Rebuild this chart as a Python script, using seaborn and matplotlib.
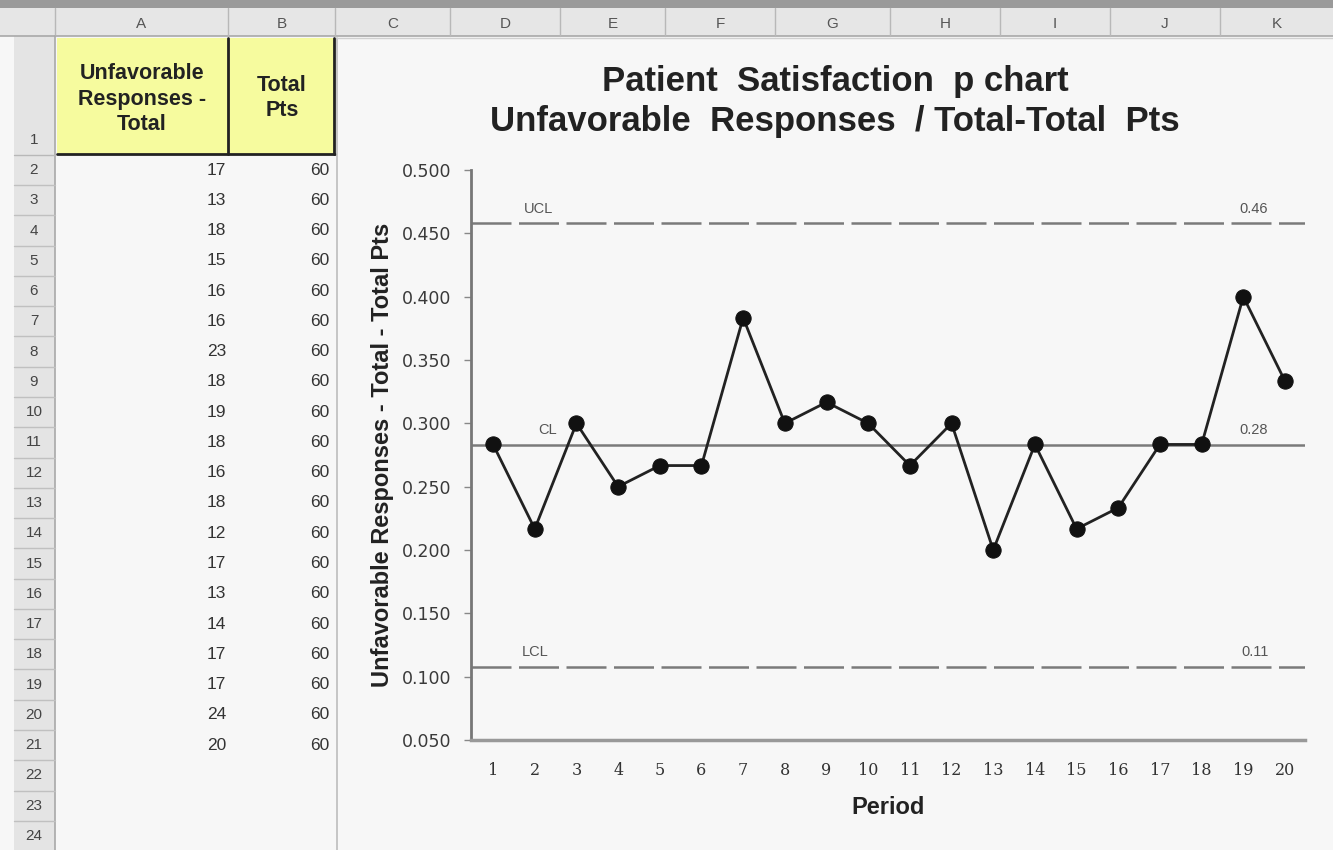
import numpy as np
import pandas as pd
import matplotlib
matplotlib.use("Agg")
import matplotlib.pyplot as plt
from matplotlib.patches import Rectangle
import seaborn as sns

# ---------------- data ----------------
periods = list(range(1, 21))
unfavorable = [17, 13, 18, 15, 16, 16, 23, 18, 19, 18, 16, 18, 12, 17, 13, 14, 17, 17, 24, 20]
total_pts = [60] * 20
p_values = [u / t for u, t in zip(unfavorable, total_pts)]

limit_names = ["UCL", "CL", "LCL"]
limit_values = [0.458, 0.283, 0.108]
limit_labels = ["0.46", "0.28", "0.11"]

y_ticks = [0.05, 0.10, 0.15, 0.20, 0.25, 0.30, 0.35, 0.40, 0.45, 0.50]
col_letters = ["A", "B", "C", "D", "E", "F", "G", "H", "I", "J", "K"]

title = "Patient  Satisfaction  p chart\nUnfavorable  Responses  / Total-Total  Pts"
y_label = "Unfavorable Responses - Total - Total Pts"
x_label = "Period"
header_a = "Unfavorable\nResponses -\nTotal"
header_b = "Total\nPts"

# ---------------- figure ----------------
sns.set_theme(style="white")
plt.rcParams["font.family"] = ["Liberation Sans", "DejaVu Sans"]

W, H = 1333, 850
fig = plt.figure(figsize=(W / 100, H / 100), dpi=100)
fig.patch.set_facecolor("#f7f7f7")

# spreadsheet backdrop (pixel coordinates)
bg = fig.add_axes([0, 0, 1, 1], zorder=0)
bg.set_xlim(0, W)
bg.set_ylim(H, 0)
bg.axis("off")
bg.set_facecolor("#f7f7f7")

col_edges = [55, 228, 335, 450, 560, 665, 775, 890, 1000, 1110, 1220, 1333]
# column header strip
bg.add_patch(Rectangle((0, 0), W, 8, color="#9a9a9a", lw=0))
bg.add_patch(Rectangle((0, 8), W, 28, color="#e6e6e6", lw=0))
bg.plot([0, W], [36, 36], color="#a8a8a8", lw=1.2)
for i, letter in enumerate(col_letters):
    x0, x1 = col_edges[i], col_edges[i + 1]
    bg.plot([x0, x0], [8, 36], color="#b8b8b8", lw=1)
    bg.text((x0 + x1) / 2, 24, letter, ha="center", va="center",
            fontsize=11, color="#555555")

# row header column
bg.add_patch(Rectangle((14, 36), 41, H - 36, color="#e4e4e4", lw=0))
bg.plot([55, 55], [36, H], color="#a8a8a8", lw=1.2)
row_h = 30.27
def row_center(k):
    return 170 + (k - 2) * row_h
bg.plot([14, 55], [155, 155], color="#b8b8b8", lw=1)
bg.text(34, 140, "1", ha="center", va="center", fontsize=11, color="#444444")
for k in range(2, 25):
    yc = row_center(k)
    bg.plot([14, 55], [yc + row_h / 2, yc + row_h / 2], color="#c0c0c0", lw=1)
    bg.text(34, yc, str(k), ha="center", va="center", fontsize=11, color="#444444")

# yellow header cells
bg.add_patch(Rectangle((57, 38), 171, 116, facecolor="#f6fb9e", edgecolor="none"))
bg.add_patch(Rectangle((228, 38), 107, 116, facecolor="#f6fb9e", edgecolor="none"))
bg.plot([57, 335], [154, 154], color="#222222", lw=2)
bg.plot([228, 228], [38, 154], color="#222222", lw=2)
bg.plot([334, 334], [38, 154], color="#222222", lw=2)
bg.text(142, 99, header_a, ha="center", va="center", fontsize=15.5,
        fontweight="bold", color="#222222", linespacing=1.3)
bg.text(282, 98, header_b, ha="center", va="center", fontsize=15.5,
        fontweight="bold", color="#222222", linespacing=1.3)

# data cells
for i, (u, t) in enumerate(zip(unfavorable, total_pts)):
    yc = row_center(i + 2)
    bg.text(226, yc, str(u), ha="right", va="center", fontsize=12.5, color="#333333")
    bg.text(329, yc, str(t), ha="right", va="center", fontsize=12.5, color="#333333")

# chart object border
bg.plot([337, 337], [38, H], color="#bdbdbd", lw=1.2)
bg.plot([337, W], [38, 38], color="#d0d0d0", lw=1)

# ---------------- the p chart ----------------
ax = fig.add_axes([471 / W, 110 / H, (1305 - 471) / W, (740 - 170) / H], zorder=2)
ax.set_facecolor("none")

df = pd.DataFrame({"Period": periods, "p": p_values})
sns.lineplot(data=df, x="Period", y="p", ax=ax, color="#222222", lw=2,
             marker="o", markersize=11, markeredgecolor="#111111",
             markerfacecolor="#111111", zorder=4)

styles = ["--", "-", "--"]
name_x = [2.1, 2.3, 2.0]
for name, val, lab, ls, nx in zip(limit_names, limit_values, limit_labels, styles, name_x):
    if ls == "--":
        ax.axhline(val, color="#7a7a7a", lw=1.8, ls="--", dashes=(16, 3), zorder=2)
    else:
        ax.axhline(val, color="#7a7a7a", lw=1.8, zorder=2)
    ax.text(nx, val + 0.006, name, ha="center", va="bottom", fontsize=10.5, color="#555555")
    ax.text(19.6, val + 0.006, lab, ha="right", va="bottom", fontsize=10.5, color="#555555")

ax.set_xlim(0.47, 20.48)
ax.set_ylim(0.05, 0.50)
ax.set_yticks(y_ticks)
ax.set_yticklabels([f"{v:.3f}" for v in y_ticks], fontsize=12.5, color="#3a3a3a",
                   family="DejaVu Sans")
ax.set_xticks(periods)
ax.set_xticklabels([str(p) for p in periods], fontsize=11.5, color="#333333",
                   family="DejaVu Serif")
ax.tick_params(axis="y", direction="out", length=5, width=1, color="#888888", pad=9, left=True)
ax.tick_params(axis="x", length=0, pad=16)

for s in ["top", "right"]:
    ax.spines[s].set_visible(False)
ax.spines["left"].set_color("#777777")
ax.spines["left"].set_linewidth(2)
ax.spines["bottom"].set_color("#999999")
ax.spines["bottom"].set_linewidth(2.5)

ax.set_xlabel(x_label, fontsize=17, fontweight="bold", color="#222222", labelpad=12)
ax.set_ylabel(y_label, fontsize=17, fontweight="bold", color="#222222", labelpad=6)

fig.text(835 / W, 1 - 101.5 / H, title, ha="center", va="center", fontsize=25,
         fontweight="bold", color="#222222", linespacing=1.25)

fig.savefig("out.png", dpi=100, facecolor=fig.get_facecolor())
